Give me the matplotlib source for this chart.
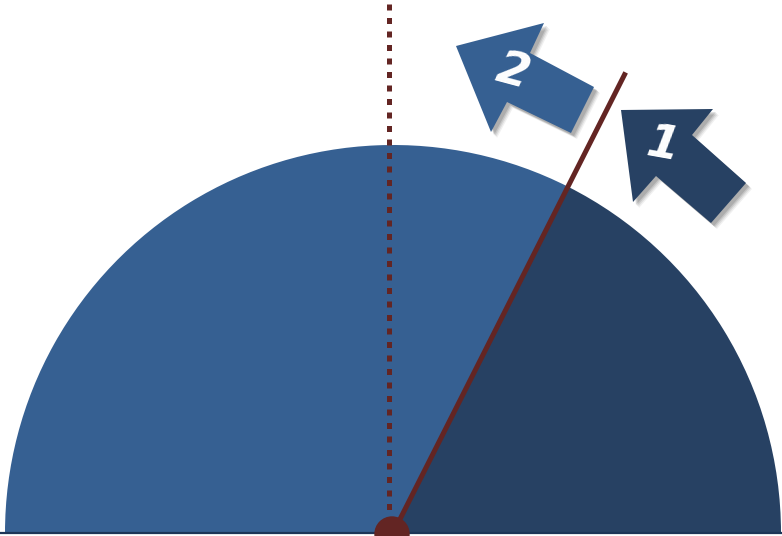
import numpy as np
import matplotlib.pyplot as plt
from matplotlib.patches import Wedge, Polygon, Circle

# Datos del diagrama (coordenadas en píxeles de la imagen)
sector_angles = [0, 63.2, 180]          # límites de los sectores (grados)
sector_colors = ['#274163', '#366092']  # oscuro, claro
arrow_labels = ['1', '2']
arrow1 = [(621, 110), (713, 109), (692, 135), (746, 183), (711, 223), (656, 176), (633, 202)]
arrow2 = [(456, 46), (544, 23), (530, 53), (594, 87), (571, 133), (507, 102), (491, 132)]
arrow_colors = ['#274163', '#366092']
label_pos = [(663, 146), (513, 72)]
label_rot = [-10, -15]

cx, cy, r = 393, 533, 388
red = '#632523'

fig = plt.figure(figsize=(7.82, 5.36), dpi=100)
ax = fig.add_axes([0, 0, 1, 1])
ax.set_xlim(0, 782)
ax.set_ylim(536, 0)
ax.axis('off')

# Sectores del semicírculo (eje y invertido: ángulo visual a -> 360-a)
for i, col in enumerate(sector_colors):
    a0, a1 = sector_angles[i], sector_angles[i + 1]
    ax.add_patch(Wedge((cx, cy), r, 360 - a1, 360 - a0, color=col, lw=0, zorder=1))

# Línea base
ax.plot([0, 782], [533, 533], color='#1d3557', lw=1.6, zorder=2)

# Línea punteada vertical
ax.plot([389, 389], [4, 520], color=red, lw=3.6, linestyle=(0, (1.2, 1.5)), zorder=3)

# Línea sólida desde el centro
ang = np.radians(sector_angles[1])
L = 516
ax.plot([cx, cx + L * np.cos(ang)], [cy, cy - L * np.sin(ang)], color=red, lw=3.6,
        solid_capstyle='butt', zorder=3)

# Punto central
ax.add_patch(Circle((392, 534), 17, color=red, zorder=4))

# Flechas con sombra
for pts, col, lab, pos, rot in zip([arrow1, arrow2], arrow_colors, arrow_labels, label_pos, label_rot):
    for k, a in [(6, 0.06), (5, 0.08), (4, 0.1), (3, 0.12)]:
        sh = [(x + k, y + k) for x, y in pts]
        ax.add_patch(Polygon(sh, closed=True, color='black', alpha=a, lw=0, zorder=5))
    ax.add_patch(Polygon(pts, closed=True, color=col, lw=0, zorder=6))
    ax.text(pos[0], pos[1], lab, color='white', fontsize=34, fontweight='bold',
            fontstyle='italic', ha='center', va='center', rotation=rot, zorder=7)

fig.savefig('out.png', dpi=100)
